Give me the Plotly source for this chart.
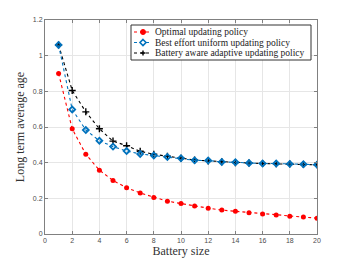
import plotly.graph_objects as go

battery = list(range(1, 21))
optimal = [0.90, 0.59, 0.447, 0.358, 0.30, 0.26, 0.23, 0.205, 0.184, 0.171, 0.157, 0.145, 0.134, 0.127, 0.119, 0.112, 0.106, 0.100, 0.095, 0.089]
best_effort = [1.06, 0.698, 0.583, 0.523, 0.49, 0.465, 0.449, 0.44, 0.432, 0.425, 0.413, 0.412, 0.404, 0.402, 0.398, 0.395, 0.395, 0.393, 0.391, 0.389]
battery_aware = [1.06, 0.805, 0.685, 0.59, 0.521, 0.495, 0.464, 0.447, 0.436, 0.425, 0.415, 0.41, 0.405, 0.40, 0.398, 0.395, 0.394, 0.392, 0.39, 0.388]

names = ["Optimal updating policy", "Best effort uniform updating policy", "Battery aware adaptive updating policy"]
colors = ["#FF0000", "#0072BD", "#000000"]

W, H = 350, 263
OFF = 8  # page body margin
L, R, T, B = 37, 41, 12, 37
PW, PH = W - L - R, H - T - B

def px(x):
    return (x - OFF - L) / PW

def py(y):
    return (H - B - (y - OFF)) / PH

fig = go.Figure()
fig.add_trace(go.Scatter(x=battery, y=optimal, name=names[0], mode="lines+markers",
                         line=dict(color=colors[0], dash="dot", width=1.1),
                         marker=dict(symbol="circle", size=5, color=colors[0])))
fig.add_trace(go.Scatter(x=battery, y=battery_aware, name=names[2], mode="lines+markers",
                         line=dict(color=colors[2], dash="dot", width=1.1),
                         marker=dict(symbol="cross-thin-open", size=5, color=colors[2], line=dict(width=1.4, color=colors[2]))))
fig.add_trace(go.Scatter(x=battery, y=best_effort, name=names[1], mode="lines+markers",
                         line=dict(color=colors[1], dash="dot", width=1.1),
                         marker=dict(symbol="diamond-open", size=4.5, color=colors[1], line=dict(width=1.8, color=colors[1]))))

axis_common = dict(showgrid=True, gridcolor="#E6E6E6", gridwidth=1, zeroline=False,
                   showline=True, linecolor="#808080", linewidth=1, mirror="ticks",
                   ticks="inside", ticklen=3, tickcolor="#808080", automargin=False,
                   tickfont=dict(family="Liberation Sans, Arial", size=7, color="#4D4D4D"))

# manual compact legend (decoration)
shapes = [dict(type="rect", xref="paper", yref="paper", x0=px(131), x1=px(311), y0=py(60), y1=py(25),
               line=dict(color="#333333", width=1), fillcolor="white", layer="above")]
annotations = []
rows = [32, 42.5, 53]
for i, yy in enumerate(rows):
    c = colors[i]
    shapes.append(dict(type="line", xref="paper", yref="paper", x0=px(134), x1=px(152), y0=py(yy), y1=py(yy),
                       line=dict(color=c, width=1.1, dash="dot"), layer="above"))
    if i == 0:
        shapes.append(dict(type="circle", xref="paper", yref="paper", xsizemode="pixel", ysizemode="pixel",
                           xanchor=px(143), yanchor=py(yy), x0=-2.5, x1=2.5, y0=-2.5, y1=2.5,
                           fillcolor=c, line=dict(color=c, width=1), layer="above"))
    elif i == 1:
        shapes.append(dict(type="path", xref="paper", yref="paper", xsizemode="pixel", ysizemode="pixel",
                           xanchor=px(143), yanchor=py(yy), path="M 0 3 L 3 0 L 0 -3 L -3 0 Z",
                           fillcolor="white", line=dict(color=c, width=1.6), layer="above"))
    else:
        shapes.append(dict(type="path", xref="paper", yref="paper", xsizemode="pixel", ysizemode="pixel",
                           xanchor=px(143), yanchor=py(yy), path="M -2.5 0 L 2.5 0 M 0 -2.5 L 0 2.5",
                           line=dict(color=c, width=1.4), layer="above"))
    annotations.append(dict(text=names[i], xref="paper", yref="paper", x=px(153), y=py(yy),
                            xanchor="left", yanchor="middle", showarrow=False,
                            font=dict(family="Liberation Serif, serif", size=9.5, color="#222222")))

fig.update_layout(
    width=W, height=H,
    margin=dict(l=L, r=R, t=T, b=B),
    paper_bgcolor="white", plot_bgcolor="white",
    font=dict(family="Liberation Serif, serif", color="#333333"),
    xaxis=dict(range=[0, 20], tickmode="linear", tick0=0, dtick=2,
               title=dict(text="Battery size", font=dict(family="Liberation Serif, serif", size=12, color="#333333"), standoff=3),
               **axis_common),
    yaxis=dict(range=[0, 1.2], tickvals=[0, 0.2, 0.4, 0.6, 0.8, 1, 1.2],
               ticktext=["0", "0.2", "0.4", "0.6", "0.8", "1", "1.2"],
               title=dict(text="Long term average age", font=dict(family="Liberation Serif, serif", size=12, color="#333333"), standoff=5),
               **axis_common),
    showlegend=False,
    shapes=shapes,
    annotations=annotations,
)

fig.write_html("out.html")
